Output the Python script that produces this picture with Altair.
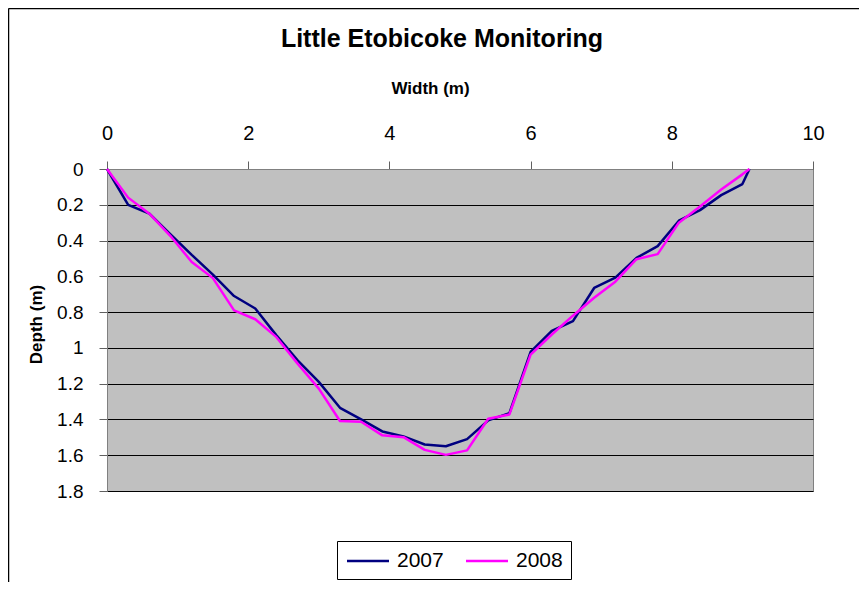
import altair as alt
import pandas as pd

widths = [0, 0.3, 0.6, 0.9, 1.2, 1.5, 1.8, 2.1, 2.4, 2.7, 3.0, 3.3, 3.6, 3.9, 4.2, 4.5,
          4.8, 5.1, 5.4, 5.7, 6.0, 6.3, 6.6, 6.9, 7.2, 7.5, 7.8, 8.1, 8.4, 8.7, 9.0, 9.1]
depth_2007 = [0, 0.20, 0.25, 0.365, 0.48, 0.59, 0.71, 0.78, 0.93, 1.07, 1.19, 1.335, 1.40,
              1.467, 1.495, 1.54, 1.55, 1.51, 1.405, 1.365, 1.023, 0.905, 0.85, 0.665,
              0.607, 0.497, 0.431, 0.289, 0.23, 0.146, 0.084, 0]
depth_2008 = [0, 0.16, 0.25, 0.375, 0.52, 0.61, 0.79, 0.84, 0.94, 1.088, 1.228, 1.409, 1.413,
              1.489, 1.499, 1.57, 1.598, 1.573, 1.396, 1.372, 1.038, 0.925, 0.82, 0.72,
              0.63, 0.504, 0.476, 0.30, 0.21, 0.115, 0.03, 0]
years = ["2007", "2008"]
colors = ["#000080", "#FF00FF"]
x_ticks = [0, 2, 4, 6, 8, 10]
y_ticks = [0, 0.2, 0.4, 0.6, 0.8, 1.0, 1.2, 1.4, 1.6, 1.8]

rows = []
for w, d in zip(widths, depth_2007):
    rows.append({"year": "2007", "width": w, "depth": d, "order": w})
for w, d in zip(widths, depth_2008):
    rows.append({"year": "2008", "width": w, "depth": d, "order": w})
df = pd.DataFrame(rows)

FONT = "Liberation Sans"

lines = alt.Chart(df).mark_line(strokeWidth=2.5, strokeJoin="round").encode(
    x=alt.X("width:Q",
            scale=alt.Scale(domain=[0, 10], nice=False),
            axis=alt.Axis(orient="top", values=x_ticks, grid=False, tickSize=8,
                          labelFlush=False,
                          labelFontSize=20, labelPadding=22, labelBaseline="alphabetic",
                          labelFont=FONT, labelColor="black",
                          title="Width (m)", titleFont=FONT, titleFontSize=17,
                          titleFontWeight="bold", titleX=323, titleY=-76,
                          titleBaseline="alphabetic", titleAlign="center",
                          titleColor="black",
                          domainColor="#808080", tickColor="#606060")),
    y=alt.Y("depth:Q",
            scale=alt.Scale(domain=[0, 1.8], reverse=True, nice=False),
            axis=alt.Axis(values=y_ticks, format="~g", grid=True, gridColor="black",
                          gridOpacity=1, gridWidth=1, tickSize=8, labelPadding=16,
                          labelFlush=False,
                          labelFontSize=19, labelFont=FONT, labelColor="black",
                          title="Depth (m)", titleFont=FONT, titleFontSize=17,
                          titleFontWeight="bold", titleX=-71, titleY=155,
                          titleAngle=270, titleBaseline="middle", titleAlign="center",
                          titleColor="black",
                          domainColor="#808080", tickColor="#606060")),
    color=alt.Color("year:N",
                    scale=alt.Scale(domain=years, range=colors),
                    legend=alt.Legend(title=None, orient="none", legendX=230, legendY=372,
                                      direction="horizontal", symbolType="M-2,0H2",
                                      symbolSize=441, symbolStrokeWidth=2.5,
                                      symbolOffset=11,
                                      labelFontSize=21, labelFont=FONT, labelColor="black",
                                      labelOffset=17, columnPadding=17, padding=8,
                                      strokeColor="black", fillColor="white")),
    order="order:Q",
)

frame_df = pd.DataFrame({"k": [0]})
left_edge = alt.Chart(frame_df).mark_rule(color="black", strokeWidth=1.5).encode(
    x=alt.value(-98.5), y=alt.value(-160.5), y2=alt.value(413))
top_edge = alt.Chart(frame_df).mark_rule(color="black", strokeWidth=1.5).encode(
    x=alt.value(-98.5), x2=alt.value(752), y=alt.value(-160.5))

chart = alt.layer(lines, left_edge, top_edge).properties(
    width=706, height=322,
    padding={"left": 99, "top": 161, "right": 46, "bottom": 91},
    autosize=alt.AutoSizeParams(type="none"),
    background="white",
    title=alt.TitleParams("Little Etobicoke Monitoring", font=FONT, fontSize=25,
                          fontWeight="bold", anchor="middle", dx=-18, dy=26, offset=-38,
                          baseline="alphabetic", color="black"),
).configure_view(fill="#C0C0C0", stroke="#808080", strokeWidth=1)

chart.save("out.html", embed_options={"renderer": "svg", "actions": False})
